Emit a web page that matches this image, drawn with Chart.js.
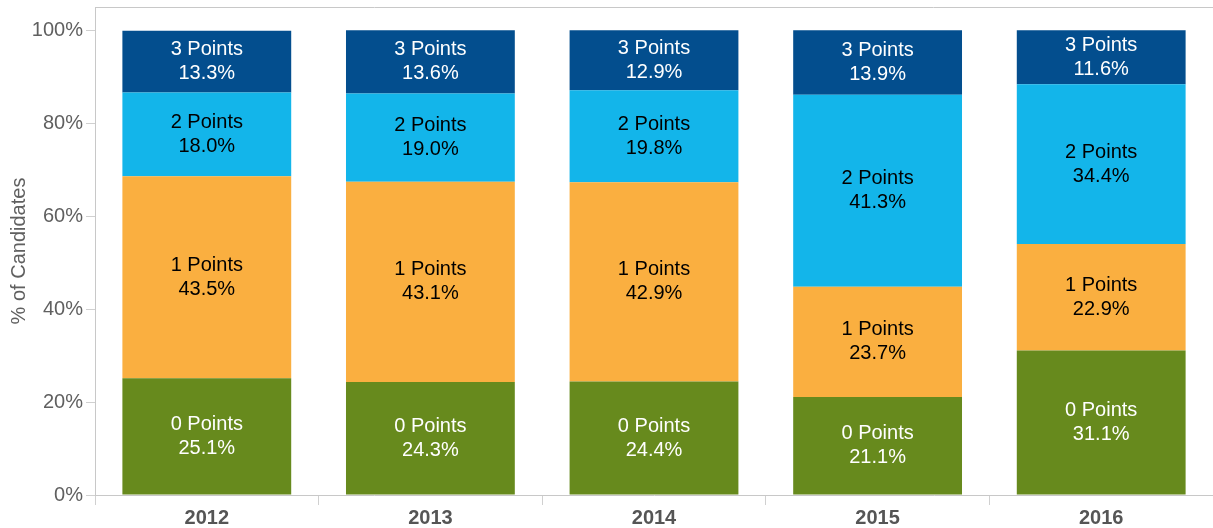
<!DOCTYPE html>
<html>
<head>
<meta charset="utf-8">
<script src="https://cdn.jsdelivr.net/npm/chart.js@4/dist/chart.umd.min.js"></script>
<style>
html,body{margin:0;padding:0;background:#fff;}
#wrap{width:1213px;height:528px;position:relative;}
</style>
</head>
<body>
<div id="wrap"><canvas id="c" width="1213" height="528"></canvas></div>
<script>
const years = ['2012','2013','2014','2015','2016'];
const points0 = [25.1, 24.3, 24.4, 21.1, 31.1];
const points1 = [43.5, 43.1, 42.9, 23.7, 22.9];
const points2 = [18.0, 19.0, 19.8, 41.3, 34.4];
const points3 = [13.3, 13.6, 12.9, 13.9, 11.6];
const seriesNames = ['0 Points','1 Points','2 Points','3 Points'];
const yTicks = [0, 20, 40, 60, 80, 100];

const colors = ['#678A1D','#FAAF40','#13B5EA','#034E8E'];
const textColors = ['#ffffff','#000000','#000000','#ffffff'];
const FONT = '"Liberation Sans", Arial, sans-serif';

const labelPlugin = {
  id: 'segLabels',
  afterDatasetsDraw(chart) {
    const ctx = chart.ctx;
    ctx.save();
    ctx.font = '20px ' + FONT;
    ctx.textAlign = 'center';
    ctx.textBaseline = 'middle';
    chart.data.datasets.forEach((ds, di) => {
      const meta = chart.getDatasetMeta(di);
      meta.data.forEach((bar, i) => {
        const top = bar.y, bottom = bar.base;
        const cy = (top + bottom) / 2;
        ctx.fillStyle = textColors[di];
        ctx.fillText(ds.label, bar.x, cy - 12);
        ctx.fillText(ds.data[i].toFixed(1) + '%', bar.x, cy + 12);
      });
    });
    ctx.restore();
  },
  beforeDraw(chart) {
    const ctx = chart.ctx;
    const a = chart.chartArea;
    ctx.save();
    ctx.strokeStyle = '#c8c8c8';
    ctx.lineWidth = 1;
    ctx.beginPath();
    ctx.moveTo(a.left, a.top + 0.5);
    ctx.lineTo(chart.width, a.top + 0.5);
    ctx.stroke();
    ctx.restore();
  }
};

new Chart(document.getElementById('c'), {
  type: 'bar',
  data: {
    labels: years,
    datasets: [points0, points1, points2, points3].map((d, i) => ({
      label: seriesNames[i],
      data: d,
      backgroundColor: colors[i],
      borderWidth: 0,
      categoryPercentage: 1,
      barPercentage: 0.755
    }))
  },
  options: {
    responsive: false,
    animation: false,
    devicePixelRatio: 1,
    layout: { padding: { top: 5, right: -2, left: 0, bottom: 0 } },
    plugins: { legend: { display: false }, tooltip: { enabled: false } },
    scales: {
      x: {
        stacked: true,
        afterFit(s) { s.height = 33; },
        grid: { offset: true, drawOnChartArea: false, drawTicks: true, tickLength: 10, color: '#d0d0d0' },
        border: { display: true, color: '#c8c8c8' },
        ticks: { color: '#555555', font: { family: FONT, size: 20, weight: 'bold' }, padding: 1 }
      },
      y: {
        stacked: true,
        min: 0,
        max: 105.0,
        afterBuildTicks(s) { s.ticks = yTicks.map(v => ({ value: v })); },
        afterFit(s) { s.width = 95; },
        grid: { drawOnChartArea: false, drawTicks: true, tickLength: 9, color: '#d0d0d0' },
        border: { display: true, color: '#c8c8c8' },
        ticks: { color: '#606060', font: { family: FONT, size: 20, lineHeight: 0.4 }, padding: 3, callback: v => v + '%' },
        title: { display: true, text: '% of Candidates', color: '#606060', font: { family: FONT, size: 20 }, padding: { top: 7, bottom: 0 } }
      }
    }
  },
  plugins: [labelPlugin]
});
</script>
</body>
</html>
